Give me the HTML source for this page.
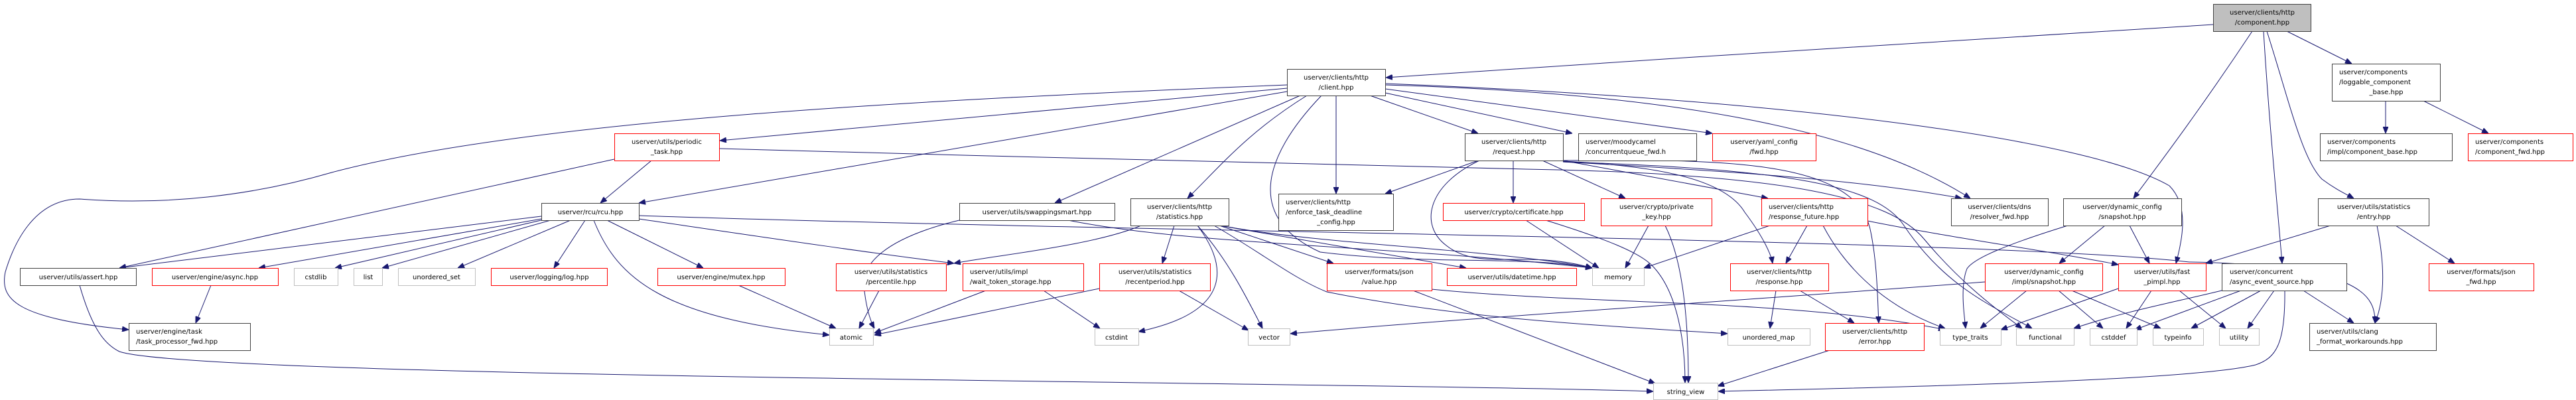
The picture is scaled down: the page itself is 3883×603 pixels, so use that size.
<!DOCTYPE html>
<html><head><meta charset="utf-8"><style>
html,body{margin:0;padding:0;background:#fff;}
svg{display:block;}
text{font-family:"DejaVu Sans","Liberation Sans",sans-serif;font-size:10px;fill:#000;}
.b{fill:#fff;stroke:#404040;stroke-width:1;}
.r{fill:#fff;stroke:#ff0000;stroke-width:1;}
.g{fill:#fff;stroke:#bfbfbf;stroke-width:1;}
.m{fill:#bfbfbf;stroke:#404040;stroke-width:1;}
path{fill:none;stroke:#191970;stroke-width:1;}
</style></head><body>
<svg width="3883" height="603" viewBox="0 0 3883 603" xmlns="http://www.w3.org/2000/svg">
<defs><marker id="a" viewBox="0 0 10 8" refX="10" refY="4" markerWidth="10" markerHeight="8" markerUnits="userSpaceOnUse" orient="auto"><path d="M0,0 L10,4 L0,8 Z" style="fill:#191970;stroke:#191970"/></marker></defs>
<g marker-end="url(#a)">
<!-- component -->
<path d="M3336,37 C3000,55 2500,90 2089,117"/>
<path d="M3395,47 C3320,160 3260,240 3216,299"/>
<path d="M3412,47 C3420,180 3432,300 3440,397"/>
<path d="M3417,47 C3450,150 3470,240 3500,270 C3520,285 3535,292 3548,299"/>
<path d="M3447,47 L3545,96"/>
<path d="M3596,152 L3596,201"/>
<path d="M3653,152 L3751,201"/>
<!-- entry -->
<path d="M3513,340 L3325,397"/>
<path d="M3583,340 C3595,400 3595,450 3580,487"/>
<path d="M3611,340 L3700,397"/>
<!-- async_event_source -->
<path d="M3349,438 C3280,455 3200,470 3126,495"/>
<path d="M3378,438 L3218,497"/>
<path d="M3408,438 L3303,495"/>
<path d="M3428,438 L3388,495"/>
<path d="M3472,438 L3548,487"/>
<path d="M3444,438 C3445,520 3430,540 3400,550 C3300,575 2800,585 2590,590"/>
<!-- fast_pimpl -->
<path d="M3193,435 L3016,497"/>
<path d="M3243,438 L3205,495"/>
<path d="M3285,438 L3355,495"/>
<!-- dyn snapshot -->
<path d="M3117,340 C3020,370 2975,390 2965,405 C2955,430 2960,470 2963,495"/>
<path d="M3173,340 L3104,397"/>
<path d="M3210,340 L3240,397"/>
<!-- impl snapshot -->
<path d="M2992,425 C2600,455 2200,480 1945,503"/>
<path d="M3055,438 L2985,495"/>
<path d="M3103,438 L3170,495"/>
<path d="M3123,438 L3257,495"/>
<!-- response_future -->
<path d="M2668,340 L2478,404"/>
<path d="M2724,340 L2692,397"/>
<path d="M2748,340 C2790,420 2860,470 2932,495"/>
<path d="M2815,333 C2950,360 3100,380 3193,399"/>
<!-- response -->
<path d="M2677,438 L2668,495"/>
<path d="M2713,438 L2795,487"/>
<!-- error -->
<path d="M2758,528 L2589,582"/>
<!-- value -->
<path d="M2130,438 L2495,578"/>
<path d="M2158,436 C2400,460 2700,450 2932,497"/>
<!-- cert / key -->
<path d="M2300,332 L2410,404"/>
<path d="M2330,332 C2420,360 2470,380 2490,400 C2530,440 2540,520 2540,577"/>
<path d="M2485,340 L2450,404"/>
<path d="M2510,340 C2540,400 2545,500 2545,577"/>
<!-- request -->
<path d="M2228,242 L2088,292"/>
<path d="M2281,242 L2281,306"/>
<path d="M2325,242 L2450,299"/>
<path d="M2230,242 C2150,280 2140,340 2180,370 C2230,410 2300,375 2400,404"/>
<path d="M2356,242 L2665,299"/>
<path d="M2356,243 C2500,250 2600,270 2630,320 C2660,360 2670,385 2672,397"/>
<path d="M2356,242 C2600,240 2800,240 2820,350 C2830,400 2830,450 2832,487"/>
<path d="M2356,244 C2700,255 2830,280 2870,340 C2930,430 3000,460 3063,495"/>
<path d="M2356,244 C2600,258 2800,270 2957,299"/>
<!-- client -->
<path d="M2065,144 L2228,201"/>
<path d="M2088,140 L2370,201"/>
<path d="M2088,134 L2581,201"/>
<path d="M2088,128 C2500,140 2800,190 2970,299"/>
<path d="M2088,126 C2700,150 3150,210 3270,280 C3300,310 3290,360 3280,397"/>
<path d="M2014,144 L2014,292"/>
<path d="M1992,144 C1900,240 1880,330 1990,380 C2150,400 2300,385 2400,404"/>
<path d="M1970,144 C1880,200 1840,250 1790,299"/>
<path d="M1960,144 L1590,306"/>
<path d="M1940,138 L963,306"/>
<path d="M1940,133 L1085,212"/>
<path d="M1940,128 C1400,150 800,180 500,260 C380,295 250,310 120,300 C50,300 20,370 8,410 C0,450 20,480 194,497"/>
<!-- periodic -->
<path d="M982,242 L905,306"/>
<path d="M926,240 L180,404"/>
<path d="M1085,224 C1500,235 2000,250 2300,255 C2700,262 2850,300 2900,360 C2950,420 3000,460 3048,495"/>
<!-- rcu -->
<path d="M816,326 L180,404"/>
<path d="M816,330 L390,404"/>
<path d="M820,331 L505,404"/>
<path d="M830,332 L576,404"/>
<path d="M860,332 L690,404"/>
<path d="M882,332 L835,404"/>
<path d="M915,332 L1060,404"/>
<path d="M895,332 C930,420 1000,480 1250,505"/>
<path d="M963,325 C1700,350 3000,360 3300,395 C3570,400 3580,450 3580,487"/>
<path d="M963,330 C1100,350 1300,380 1438,397"/>
<!-- small -->
<path d="M318,430 L295,487"/>
<path d="M1113,430 L1260,495"/>
<path d="M1325,438 L1295,495"/>
<path d="M1486,438 L1318,502"/>
<path d="M1573,438 L1658,495"/>
<path d="M1657,435 L1318,505"/>
<path d="M1777,438 L1882,498"/>
<path d="M1446,332 C1330,360 1300,400 1302,430 C1305,460 1310,480 1318,495"/>
<path d="M1610,332 C1800,370 2100,370 2400,404"/>
<!-- statistics -->
<path d="M1720,340 C1650,370 1500,385 1438,397"/>
<path d="M1770,340 L1752,397"/>
<path d="M1805,340 C1850,400 1860,470 1716,500"/>
<path d="M1805,340 C1850,390 1880,450 1903,495"/>
<path d="M1840,340 C2000,370 2250,375 2400,404"/>
<path d="M1838,340 L2010,397"/>
<path d="M1838,340 L2210,404"/>
<path d="M1830,340 C1900,380 1950,420 2000,440 C2200,480 2400,490 2604,503"/>
<!-- assert -->
<path d="M120,430 C140,500 160,520 180,530 C300,570 2000,575 2492,590"/>
</g>
<!-- nodes -->
<rect class="m" x="3336.5" y="6.5" width="147" height="41"/><text x="3410" y="22" text-anchor="middle">userver/clients/http</text><text x="3410" y="37" text-anchor="middle">/component.hpp</text>
<rect class="b" x="1940.5" y="104.5" width="148" height="40"/><text x="2014" y="120" text-anchor="middle">userver/clients/http</text><text x="2014" y="135" text-anchor="middle">/client.hpp</text>
<rect class="b" x="3515.5" y="96.5" width="163" height="56"/><text x="3526" y="112">userver/components</text><text x="3526" y="127">/loggable_component</text><text x="3597" y="142" text-anchor="middle">_base.hpp</text>
<rect class="r" x="926.5" y="201.5" width="158" height="41"/><text x="1005" y="217" text-anchor="middle">userver/utils/periodic</text><text x="1005" y="232" text-anchor="middle">_task.hpp</text>
<rect class="b" x="2208.5" y="201.5" width="148" height="41"/><text x="2282" y="217" text-anchor="middle">userver/clients/http</text><text x="2282" y="232" text-anchor="middle">/request.hpp</text>
<rect class="b" x="2379.5" y="201.5" width="178" height="41"/><text x="2390" y="217">userver/moodycamel</text><text x="2390" y="232">/concurrentqueue_fwd.h</text>
<rect class="r" x="2581.5" y="201.5" width="156" height="41"/><text x="2659" y="217" text-anchor="middle">userver/yaml_config</text><text x="2659" y="232" text-anchor="middle">/fwd.hpp</text>
<rect class="b" x="3497.5" y="201.5" width="199" height="41"/><text x="3508" y="217">userver/components</text><text x="3508" y="232">/impl/component_base.hpp</text>
<rect class="r" x="3720.5" y="201.5" width="158" height="41"/><text x="3731" y="217">userver/components</text><text x="3731" y="232">/component_fwd.hpp</text>
<rect class="b" x="816.5" y="306.5" width="147" height="26"/><text x="890" y="323" text-anchor="middle">userver/rcu/rcu.hpp</text>
<rect class="b" x="1446.5" y="306.5" width="234" height="26"/><text x="1563" y="323" text-anchor="middle">userver/utils/swappingsmart.hpp</text>
<rect class="b" x="1704.5" y="299.5" width="148" height="41"/><text x="1778" y="315" text-anchor="middle">userver/clients/http</text><text x="1778" y="330" text-anchor="middle">/statistics.hpp</text>
<rect class="b" x="1927.5" y="292.5" width="173" height="55"/><text x="1938" y="308">userver/clients/http</text><text x="1938" y="323">/enforce_task_deadline</text><text x="2014" y="338" text-anchor="middle">_config.hpp</text>
<rect class="r" x="2175.5" y="306.5" width="213" height="26"/><text x="2282" y="323" text-anchor="middle">userver/crypto/certificate.hpp</text>
<rect class="r" x="2413.5" y="299.5" width="167" height="41"/><text x="2497" y="315" text-anchor="middle">userver/crypto/private</text><text x="2497" y="330" text-anchor="middle">_key.hpp</text>
<rect class="r" x="2655.5" y="299.5" width="160" height="41"/><text x="2666" y="315">userver/clients/http</text><text x="2666" y="330">/response_future.hpp</text>
<rect class="b" x="2941.5" y="299.5" width="146" height="41"/><text x="3014" y="315" text-anchor="middle">userver/clients/dns</text><text x="3014" y="330" text-anchor="middle">/resolver_fwd.hpp</text>
<rect class="b" x="3110.5" y="299.5" width="178" height="41"/><text x="3199" y="315" text-anchor="middle">userver/dynamic_config</text><text x="3199" y="330" text-anchor="middle">/snapshot.hpp</text>
<rect class="b" x="3494.5" y="299.5" width="167" height="41"/><text x="3578" y="315" text-anchor="middle">userver/utils/statistics</text><text x="3578" y="330" text-anchor="middle">/entry.hpp</text>
<rect class="b" x="30.5" y="404.5" width="175" height="26"/><text x="118" y="421" text-anchor="middle">userver/utils/assert.hpp</text>
<rect class="r" x="229.5" y="404.5" width="190" height="26"/><text x="324" y="421" text-anchor="middle">userver/engine/async.hpp</text>
<rect class="g" x="443.5" y="404.5" width="66" height="26"/><text x="476" y="421" text-anchor="middle">cstdlib</text>
<rect class="g" x="533.5" y="404.5" width="43" height="26"/><text x="555" y="421" text-anchor="middle">list</text>
<rect class="g" x="600.5" y="404.5" width="116" height="26"/><text x="658" y="421" text-anchor="middle">unordered_set</text>
<rect class="r" x="740.5" y="404.5" width="175" height="26"/><text x="828" y="421" text-anchor="middle">userver/logging/log.hpp</text>
<rect class="r" x="991.5" y="404.5" width="192" height="26"/><text x="1087" y="421" text-anchor="middle">userver/engine/mutex.hpp</text>
<rect class="r" x="1260.5" y="397.5" width="166" height="41"/><text x="1343" y="413" text-anchor="middle">userver/utils/statistics</text><text x="1343" y="428" text-anchor="middle">/percentile.hpp</text>
<rect class="r" x="1451.5" y="397.5" width="182" height="41"/><text x="1462" y="413">userver/utils/impl</text><text x="1462" y="428">/wait_token_storage.hpp</text>
<rect class="r" x="1657.5" y="397.5" width="167" height="41"/><text x="1741" y="413" text-anchor="middle">userver/utils/statistics</text><text x="1741" y="428" text-anchor="middle">/recentperiod.hpp</text>
<rect class="r" x="2000.5" y="397.5" width="158" height="41"/><text x="2079" y="413" text-anchor="middle">userver/formats/json</text><text x="2079" y="428" text-anchor="middle">/value.hpp</text>
<rect class="r" x="2181.5" y="404.5" width="195" height="26"/><text x="2279" y="421" text-anchor="middle">userver/utils/datetime.hpp</text>
<rect class="g" x="2400.5" y="404.5" width="78" height="26"/><text x="2439" y="421" text-anchor="middle">memory</text>
<rect class="r" x="2608.5" y="397.5" width="148" height="41"/><text x="2682" y="413" text-anchor="middle">userver/clients/http</text><text x="2682" y="428" text-anchor="middle">/response.hpp</text>
<rect class="r" x="2992.5" y="397.5" width="177" height="41"/><text x="3081" y="413" text-anchor="middle">userver/dynamic_config</text><text x="3081" y="428" text-anchor="middle">/impl/snapshot.hpp</text>
<rect class="r" x="3193.5" y="397.5" width="132" height="41"/><text x="3259" y="413" text-anchor="middle">userver/utils/fast</text><text x="3259" y="428" text-anchor="middle">_pimpl.hpp</text>
<rect class="b" x="3349.5" y="397.5" width="188" height="41"/><text x="3361" y="413">userver/concurrent</text><text x="3361" y="428">/async_event_source.hpp</text>
<rect class="r" x="3661.5" y="397.5" width="158" height="41"/><text x="3740" y="413" text-anchor="middle">userver/formats/json</text><text x="3740" y="428" text-anchor="middle">_fwd.hpp</text>
<rect class="b" x="194.5" y="487.5" width="183" height="41"/><text x="205" y="503">userver/engine/task</text><text x="205" y="518">/task_processor_fwd.hpp</text>
<rect class="g" x="1250.5" y="495.5" width="66" height="25"/><text x="1283" y="512" text-anchor="middle">atomic</text>
<rect class="g" x="1650.5" y="495.5" width="66" height="25"/><text x="1683" y="512" text-anchor="middle">cstdint</text>
<rect class="g" x="1881.5" y="495.5" width="63" height="25"/><text x="1913" y="512" text-anchor="middle">vector</text>
<rect class="g" x="2604.5" y="495.5" width="124" height="25"/><text x="2666" y="512" text-anchor="middle">unordered_map</text>
<rect class="r" x="2751.5" y="487.5" width="149" height="41"/><text x="2826" y="503" text-anchor="middle">userver/clients/http</text><text x="2826" y="518" text-anchor="middle">/error.hpp</text>
<rect class="g" x="2924.5" y="495.5" width="92" height="25"/><text x="2970" y="512" text-anchor="middle">type_traits</text>
<rect class="g" x="3039.5" y="495.5" width="87" height="25"/><text x="3083" y="512" text-anchor="middle">functional</text>
<rect class="g" x="3150.5" y="495.5" width="71" height="25"/><text x="3186" y="512" text-anchor="middle">cstddef</text>
<rect class="g" x="3245.5" y="495.5" width="76" height="25"/><text x="3283" y="512" text-anchor="middle">typeinfo</text>
<rect class="g" x="3345.5" y="495.5" width="60" height="25"/><text x="3375" y="512" text-anchor="middle">utility</text>
<rect class="b" x="3481.5" y="487.5" width="191" height="41"/><text x="3492" y="503">userver/utils/clang</text><text x="3492" y="518">_format_workarounds.hpp</text>
<rect class="g" x="2492.5" y="577.5" width="97" height="25"/><text x="2541" y="594" text-anchor="middle">string_view</text>
</svg>
</body></html>
